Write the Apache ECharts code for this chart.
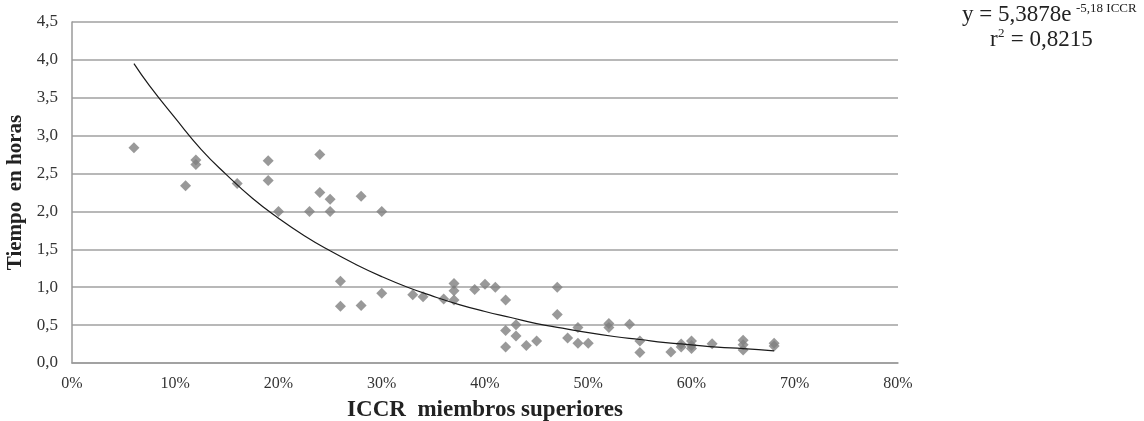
<!DOCTYPE html>
<html>
<head>
<meta charset="utf-8">
<script src="https://cdn.jsdelivr.net/npm/echarts@6/dist/echarts.min.js"></script>
<style>
html,body{margin:0;padding:0;background:#fff;}
#chart{width:1144px;height:421px;}
</style>
</head>
<body>
<div id="chart"></div>
<script>
// ICCR (fraction) values of observations
const iccrValues = [0.06,0.11,0.12,0.12,0.16,0.19,0.19,0.20,0.23,0.24,0.24,0.25,0.25,0.26,0.26,0.28,0.28,0.30,0.30,
  0.33,0.34,0.36,0.37,0.37,0.37,0.39,0.40,0.41,0.42,0.42,0.42,0.43,0.43,0.44,0.45,0.47,0.47,0.48,0.49,0.49,0.50,
  0.52,0.52,0.54,0.55,0.55,0.58,0.59,0.59,0.60,0.60,0.60,0.62,0.65,0.65,0.65,0.68,0.68];
// Tiempo en horas for each observation
const hoursValues = [2.84,2.34,2.68,2.62,2.37,2.67,2.41,2.00,2.00,2.75,2.25,2.16,2.00,1.08,0.75,2.20,0.76,2.00,0.92,
  0.90,0.875,0.845,1.05,0.955,0.83,0.97,1.04,1.00,0.83,0.43,0.21,0.505,0.356,0.23,0.29,1.00,0.64,0.33,0.47,0.26,0.26,
  0.52,0.47,0.51,0.29,0.14,0.145,0.25,0.21,0.29,0.23,0.19,0.255,0.30,0.24,0.17,0.26,0.225];
// Trend curve
const trendX = [0.06,0.075,0.10,0.125,0.15,0.175,0.20,0.225,0.25,0.275,0.30,0.325,0.35,0.375,0.40,
  0.425,0.45,0.475,0.50,0.525,0.55,0.575,0.60,0.625,0.65,0.68];
const trendY = [3.95,3.66,3.23,2.82,2.48,2.17,1.91,1.68,1.48,1.30,1.14,1.00,0.88,0.77,0.68,
  0.60,0.52,0.46,0.40,0.35,0.31,0.27,0.24,0.21,0.19,0.16];
// Axis ticks
const yTickLabels = ['0,0','0,5','1,0','1,5','2,0','2,5','3,0','3,5','4,0','4,5'];
const xTickLabels = ['0%','10%','20%','30%','40%','50%','60%','70%','80%'];
const xTitle = 'ICCR  miembros superiores';
const yTitle = 'Tiempo  en horas';
const eqMain = 'y = 5,3878e';
const eqSup = '-5,18 ICCR';
const r2Main = 'r';
const r2Sup = '2';
const r2Rest = ' = 0,8215';

const serif = '"Liberation Serif","DejaVu Serif",serif';
const chart = echarts.init(document.getElementById('chart'), null, {renderer:'canvas'});
const points = iccrValues.map((x,i)=>[x,hoursValues[i]]);
const trend = trendX.map((x,i)=>[x,trendY[i]]);
chart.setOption({
  animation:false,
  backgroundColor:'#fff',
  grid:{left:72,right:246,top:22,bottom:58,containLabel:false,outerBoundsMode:'none'},
  xAxis:{
    type:'value',min:0,max:0.8,interval:0.1,
    name:xTitle,nameLocation:'middle',nameGap:36,
    nameTextStyle:{fontFamily:serif,fontWeight:'bold',fontSize:23,color:'#222'},
    axisLine:{show:true,lineStyle:{color:'#9a9a9a',width:1.5}},
    axisTick:{show:false},
    splitLine:{show:false},
    axisLabel:{margin:13,fontFamily:serif,fontSize:16,color:'#333',
      formatter:(v)=>xTickLabels[Math.round(v*10)]}
  },
  yAxis:{
    type:'value',min:0,max:4.5,interval:0.5,
    name:yTitle,nameLocation:'middle',nameGap:41,nameRotate:90,
    nameTextStyle:{fontFamily:serif,fontWeight:'bold',fontSize:21,color:'#222'},
    axisLine:{show:true,lineStyle:{color:'#9a9a9a',width:1.5}},
    axisTick:{show:false},
    splitLine:{show:true,lineStyle:{color:'#a0a0a0',width:1.5}},
    axisLabel:{margin:14,fontFamily:serif,fontSize:17,color:'#333',
      formatter:(v)=>yTickLabels[Math.round(v*2)]}
  },
  series:[
    {type:'scatter',data:points,symbol:'diamond',symbolSize:11,
     itemStyle:{color:'#808080'},z:3},
    {type:'line',data:trend,smooth:true,showSymbol:false,symbol:'none',
     lineStyle:{color:'#1a1a1a',width:1.2},z:4}
  ],
  graphic:[
    {type:'text',left:962,top:3,style:{text:eqMain,font:'23px '+serif,fill:'#222'}},
    {type:'text',left:1076,top:2,style:{text:eqSup,font:'13px '+serif,fill:'#222'}},
    {type:'text',left:990,top:28,style:{text:r2Main,font:'23px '+serif,fill:'#222'}},
    {type:'text',left:998,top:27,style:{text:r2Sup,font:'13px '+serif,fill:'#222'}},
    {type:'text',left:1005,top:28,style:{text:r2Rest,font:'23px '+serif,fill:'#222'}}
  ]
});
</script>
</body>
</html>
